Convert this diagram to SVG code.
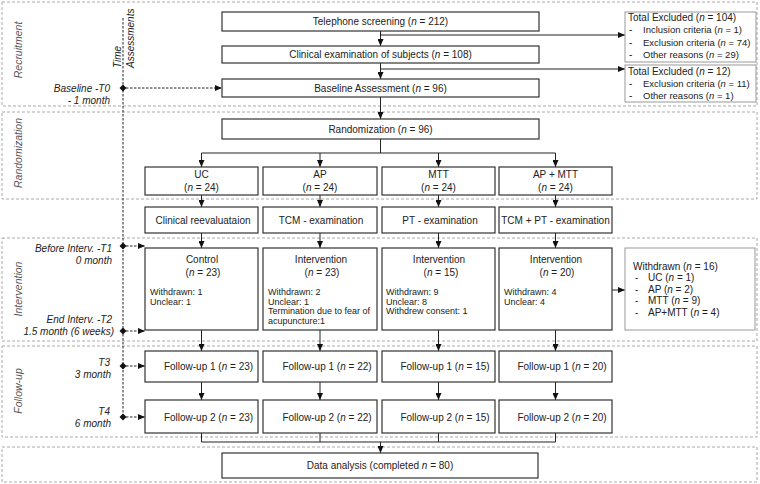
<svg xmlns="http://www.w3.org/2000/svg" width="760" height="484" viewBox="0 0 760 484">
<defs>
<marker id="ah" markerUnits="userSpaceOnUse" markerWidth="7" markerHeight="6" refX="7" refY="3" orient="auto"><path d="M0,0 L7,3 L0,6 z" fill="#111"/></marker>
<style>
text{font-family:"Liberation Sans",Arial,sans-serif;font-size:10px;fill:#222}
.m{text-anchor:middle}
.e{text-anchor:end}
.s{font-size:9px}
.x{font-size:9.5px}
.i{font-style:italic}
.lab{font-style:italic;fill:#555;font-size:10.5px;text-anchor:middle}
.side{font-style:italic;font-size:10px;text-anchor:end}
.box{fill:#fff;stroke:#333;stroke-width:1.2}
.gbox{fill:#fff;stroke:#999;stroke-width:1}
.panel{fill:none;stroke:#aaa;stroke-width:1;stroke-dasharray:3 2}
.c{stroke:#222;stroke-width:1;fill:none}
.a{marker-end:url(#ah)}
.d{stroke:#222;stroke-width:1;fill:none;stroke-dasharray:2.5 1.5}
.dm{fill:#111}
</style>
</defs>
<rect width="760" height="484" fill="#fff"/>

<g id="panels">
<rect class="panel" x="2" y="2" width="755" height="104"/>
<rect class="panel" x="2" y="112" width="755" height="87"/>
<rect class="panel" x="2" y="238" width="755" height="103"/>
<rect class="panel" x="2" y="346" width="755" height="91"/>
<rect class="panel" x="2" y="447" width="755" height="35"/>
<text class="lab" transform="translate(22,50) rotate(-90)">Recruitment</text>
<text class="lab" transform="translate(22,153) rotate(-90)">Randomization</text>
<text class="lab" transform="translate(22,289) rotate(-90)">Intervention</text>
<text class="lab" transform="translate(22,391) rotate(-90)">Follow-up</text>
</g>

<g id="time-axis">
<text class="i" transform="translate(121,68) rotate(-90)">Time</text>
<text class="i" transform="translate(134,68) rotate(-90)">Assessments</text>
<line class="d" x1="123" y1="18" x2="123" y2="417"/>
<text class="side" x="110" y="91.5">Baseline -T0</text>
<text class="side" x="110" y="103.5">- 1 month</text>
<text class="side" x="112" y="251.5">Before Interv. -T1</text>
<text class="side" x="112" y="263.5">0 month</text>
<text class="side" x="112" y="323">End Interv. -T2</text>
<text class="side" x="114" y="334.5">1.5 month (6 weeks)</text>
<text class="side" x="110" y="366">T3</text>
<text class="side" x="111" y="377.5">3 month</text>
<text class="side" x="110" y="415">T4</text>
<text class="side" x="111" y="427">6 month</text>
<polygon class="dm" points="119.5,88 123,84.5 126.5,88 123,91.5"/>
<polygon class="dm" points="119.5,246 123,242.5 126.5,246 123,249.5"/>
<polygon class="dm" points="119.5,331 123,327.5 126.5,331 123,334.5"/>
<polygon class="dm" points="119.5,366 123,362.5 126.5,366 123,369.5"/>
<polygon class="dm" points="119.5,417 123,413.5 126.5,417 123,420.5"/>
</g>

<g id="connectors">
<line class="d a" x1="126" y1="88" x2="222" y2="88"/>
<line class="d a" x1="126" y1="246" x2="145" y2="246"/>
<line class="d a" x1="126" y1="331" x2="145" y2="331"/>
<line class="d a" x1="126" y1="366" x2="145" y2="366"/>
<line class="d a" x1="126" y1="417" x2="145" y2="417"/>

<line class="c a" x1="380.5" y1="31" x2="380.5" y2="46"/>
<polyline class="c a" points="380.5,35 625,35"/>
<line class="c a" x1="380.5" y1="63" x2="380.5" y2="79"/>
<polyline class="c a" points="380.5,69 625,69"/>
<line class="c a" x1="380.5" y1="97" x2="380.5" y2="119"/>
<line class="c" x1="380.5" y1="139" x2="380.5" y2="153"/>
<line class="c" x1="201.5" y1="153" x2="555.5" y2="153"/>
<line class="c a" x1="201.5" y1="153" x2="201.5" y2="167"/>
<line class="c a" x1="320" y1="153" x2="320" y2="167"/>
<line class="c a" x1="438.5" y1="153" x2="438.5" y2="167"/>
<line class="c a" x1="555.5" y1="153" x2="555.5" y2="167"/>

<line class="c a" x1="201.5" y1="195" x2="201.5" y2="207"/>
<line class="c a" x1="320" y1="195" x2="320" y2="207"/>
<line class="c a" x1="438.5" y1="195" x2="438.5" y2="207"/>
<line class="c a" x1="555.5" y1="195" x2="555.5" y2="207"/>

<line class="c a" x1="201.5" y1="233" x2="201.5" y2="248"/>
<line class="c a" x1="320" y1="233" x2="320" y2="248"/>
<line class="c a" x1="438.5" y1="233" x2="438.5" y2="248"/>
<line class="c a" x1="555.5" y1="233" x2="555.5" y2="248"/>

<line class="c a" x1="612" y1="290" x2="625" y2="290"/>

<line class="c a" x1="201.5" y1="330" x2="201.5" y2="351"/>
<line class="c a" x1="320" y1="330" x2="320" y2="351"/>
<line class="c a" x1="438.5" y1="330" x2="438.5" y2="351"/>
<line class="c a" x1="555.5" y1="330" x2="555.5" y2="351"/>

<line class="c a" x1="201.5" y1="382" x2="201.5" y2="400"/>
<line class="c a" x1="320" y1="382" x2="320" y2="400"/>
<line class="c a" x1="438.5" y1="382" x2="438.5" y2="400"/>
<line class="c a" x1="555.5" y1="382" x2="555.5" y2="400"/>

<polyline class="c" points="201.5,433 201.5,442 555.5,442 555.5,433"/>
<line class="c" x1="320" y1="433" x2="320" y2="442"/>
<line class="c" x1="438.5" y1="433" x2="438.5" y2="442"/>
<line class="c a" x1="380.5" y1="442" x2="380.5" y2="453"/>
</g>

<g id="telephone">
<rect class="box" x="222" y="12" width="317" height="19"/>
<text class="m" x="380.5" y="25">Telephone screening (<tspan class="i">n</tspan> = 212)</text>
</g>
<g id="clinical">
<rect class="box" x="222" y="46" width="317" height="17"/>
<text class="m" x="380.5" y="58">Clinical examination of subjects (<tspan class="i">n</tspan> = 108)</text>
</g>
<g id="baseline">
<rect class="box" x="222" y="79" width="317" height="18"/>
<text class="m" x="380.5" y="91.5">Baseline Assessment (<tspan class="i">n</tspan> = 96)</text>
</g>
<g id="excluded1">
<rect class="gbox" x="625" y="12" width="131" height="50"/>
<text x="628" y="20.5">Total Excluded (<tspan class="i">n</tspan> = 104)</text>
<text x="629" y="33">-</text><text class="x" x="643" y="33">Inclusion criteria (<tspan class="i">n</tspan> = 1)</text>
<text x="629" y="45.5">-</text><text class="x" x="643" y="45.5">Exclusion criteria (<tspan class="i">n</tspan> = 74)</text>
<text x="629" y="58">-</text><text class="x" x="643" y="58">Other reasons (<tspan class="i">n</tspan> = 29)</text>
</g>
<g id="excluded2">
<rect class="gbox" x="625" y="65" width="131" height="37"/>
<text x="628" y="74.5">Total Excluded (<tspan class="i">n</tspan> = 12)</text>
<text x="629" y="87">-</text><text class="x" x="643" y="87">Exclusion criteria (<tspan class="i">n</tspan> = 11)</text>
<text x="629" y="99">-</text><text class="x" x="643" y="99">Other reasons (<tspan class="i">n</tspan> = 1)</text>
</g>
<g id="randomization">
<rect class="box" x="222" y="119" width="317" height="20"/>
<text class="m" x="380.5" y="133">Randomization (<tspan class="i">n</tspan> = 96)</text>
</g>

<g id="uc">
<rect class="box" x="145" y="167" width="113" height="28"/>
<text class="m" x="201.5" y="177.5">UC</text>
<text class="m" x="201.5" y="190.5">(<tspan class="i">n</tspan> = 24)</text>
</g>
<g id="ap">
<rect class="box" x="263" y="167" width="114" height="28"/>
<text class="m" x="320" y="177.5">AP</text>
<text class="m" x="320" y="190.5">(<tspan class="i">n</tspan> = 24)</text>
</g>
<g id="mtt">
<rect class="box" x="382" y="167" width="113" height="28"/>
<text class="m" x="438.5" y="177.5">MTT</text>
<text class="m" x="438.5" y="190.5">(<tspan class="i">n</tspan> = 24)</text>
</g>
<g id="apmtt">
<rect class="box" x="499" y="167" width="113" height="28"/>
<text class="m" x="555.5" y="177.5">AP + MTT</text>
<text class="m" x="555.5" y="190.5">(<tspan class="i">n</tspan> = 24)</text>
</g>

<g id="exam-uc">
<rect class="box" x="145" y="207" width="113" height="26"/>
<text class="m" x="203" y="223.5">Clinical reevaluataion</text>
</g>
<g id="exam-ap">
<rect class="box" x="263" y="207" width="114" height="26"/>
<text class="m" x="321" y="223.5">TCM - examination</text>
</g>
<g id="exam-mtt">
<rect class="box" x="382" y="207" width="113" height="26"/>
<text class="m" x="440" y="223.5">PT - examination</text>
</g>
<g id="exam-apmtt">
<rect class="box" x="499" y="207" width="113" height="26"/>
<text class="m" x="555.5" y="223.5">TCM + PT - examination</text>
</g>

<g id="int-uc">
<rect class="box" x="145" y="248" width="113" height="82"/>
<text class="m" x="202" y="262.5">Control</text>
<text class="m" x="203" y="276">(<tspan class="i">n</tspan> = 23)</text>
<text class="s" x="150" y="295">Withdrawn: 1</text>
<text class="s" x="150" y="304.5">Unclear: 1</text>
</g>
<g id="int-ap">
<rect class="box" x="263" y="248" width="114" height="82"/>
<text class="m" x="321" y="262.5">Intervention</text>
<text class="m" x="322" y="276">(<tspan class="i">n</tspan> = 23)</text>
<text class="s" x="268" y="295">Withdrawn: 2</text>
<text class="s" x="268" y="304.5">Unclear: 1</text>
<text class="s" x="268" y="314">Termination due to fear of</text>
<text class="s" x="268" y="323.5">acupuncture:1</text>
</g>
<g id="int-mtt">
<rect class="box" x="382" y="248" width="113" height="82"/>
<text class="m" x="439" y="262.5">Intervention</text>
<text class="m" x="441" y="276">(<tspan class="i">n</tspan> = 15)</text>
<text class="s" x="386" y="295">Withdrawn: 9</text>
<text class="s" x="386" y="304.5">Unclear: 8</text>
<text class="s" x="386" y="314">Withdrew consent: 1</text>
</g>
<g id="int-apmtt">
<rect class="box" x="499" y="248" width="113" height="82"/>
<text class="m" x="556" y="262.5">Intervention</text>
<text class="m" x="557" y="276">(<tspan class="i">n</tspan> = 20)</text>
<text class="s" x="504" y="295">Withdrawn: 4</text>
<text class="s" x="504" y="304.5">Unclear: 4</text>
</g>
<g id="withdrawn">
<rect class="gbox" x="625" y="248" width="130" height="82"/>
<text x="633" y="269.5">Withdrawn (<tspan class="i">n</tspan> = 16)</text>
<text x="635" y="281">-</text><text x="648" y="281">UC (<tspan class="i">n</tspan> = 1)</text>
<text x="635" y="292.5">-</text><text x="648" y="292.5">AP (<tspan class="i">n</tspan> = 2)</text>
<text x="635" y="304">-</text><text x="648" y="304">MTT (<tspan class="i">n</tspan> = 9)</text>
<text x="635" y="315.5">-</text><text x="648" y="315.5">AP+MTT (<tspan class="i">n</tspan> = 4)</text>
</g>

<g id="fu1-uc"><rect class="box" x="145" y="351" width="113" height="31"/><text class="m" x="208.5" y="370">Follow-up 1 (<tspan class="i">n</tspan> = 23)</text></g>
<g id="fu1-ap"><rect class="box" x="263" y="351" width="114" height="31"/><text class="m" x="327" y="370">Follow-up 1 (<tspan class="i">n</tspan> = 22)</text></g>
<g id="fu1-mtt"><rect class="box" x="382" y="351" width="113" height="31"/><text class="m" x="445" y="370">Follow-up 1 (<tspan class="i">n</tspan> = 15)</text></g>
<g id="fu1-apmtt"><rect class="box" x="499" y="351" width="113" height="31"/><text class="m" x="562" y="370">Follow-up 1 (<tspan class="i">n</tspan> = 20)</text></g>

<g id="fu2-uc"><rect class="box" x="145" y="400" width="113" height="33"/><text class="m" x="208.5" y="420.5">Follow-up 2 (<tspan class="i">n</tspan> = 23)</text></g>
<g id="fu2-ap"><rect class="box" x="263" y="400" width="114" height="33"/><text class="m" x="327" y="420.5">Follow-up 2 (<tspan class="i">n</tspan> = 22)</text></g>
<g id="fu2-mtt"><rect class="box" x="382" y="400" width="113" height="33"/><text class="m" x="445" y="420.5">Follow-up 2 (<tspan class="i">n</tspan> = 15)</text></g>
<g id="fu2-apmtt"><rect class="box" x="499" y="400" width="113" height="33"/><text class="m" x="562" y="420.5">Follow-up 2 (<tspan class="i">n</tspan> = 20)</text></g>

<g id="data-analysis">
<rect class="box" x="222" y="453" width="316" height="25"/>
<text class="m" x="380" y="469">Data analysis (completed <tspan class="i">n</tspan> = 80)</text>
</g>
</svg>
